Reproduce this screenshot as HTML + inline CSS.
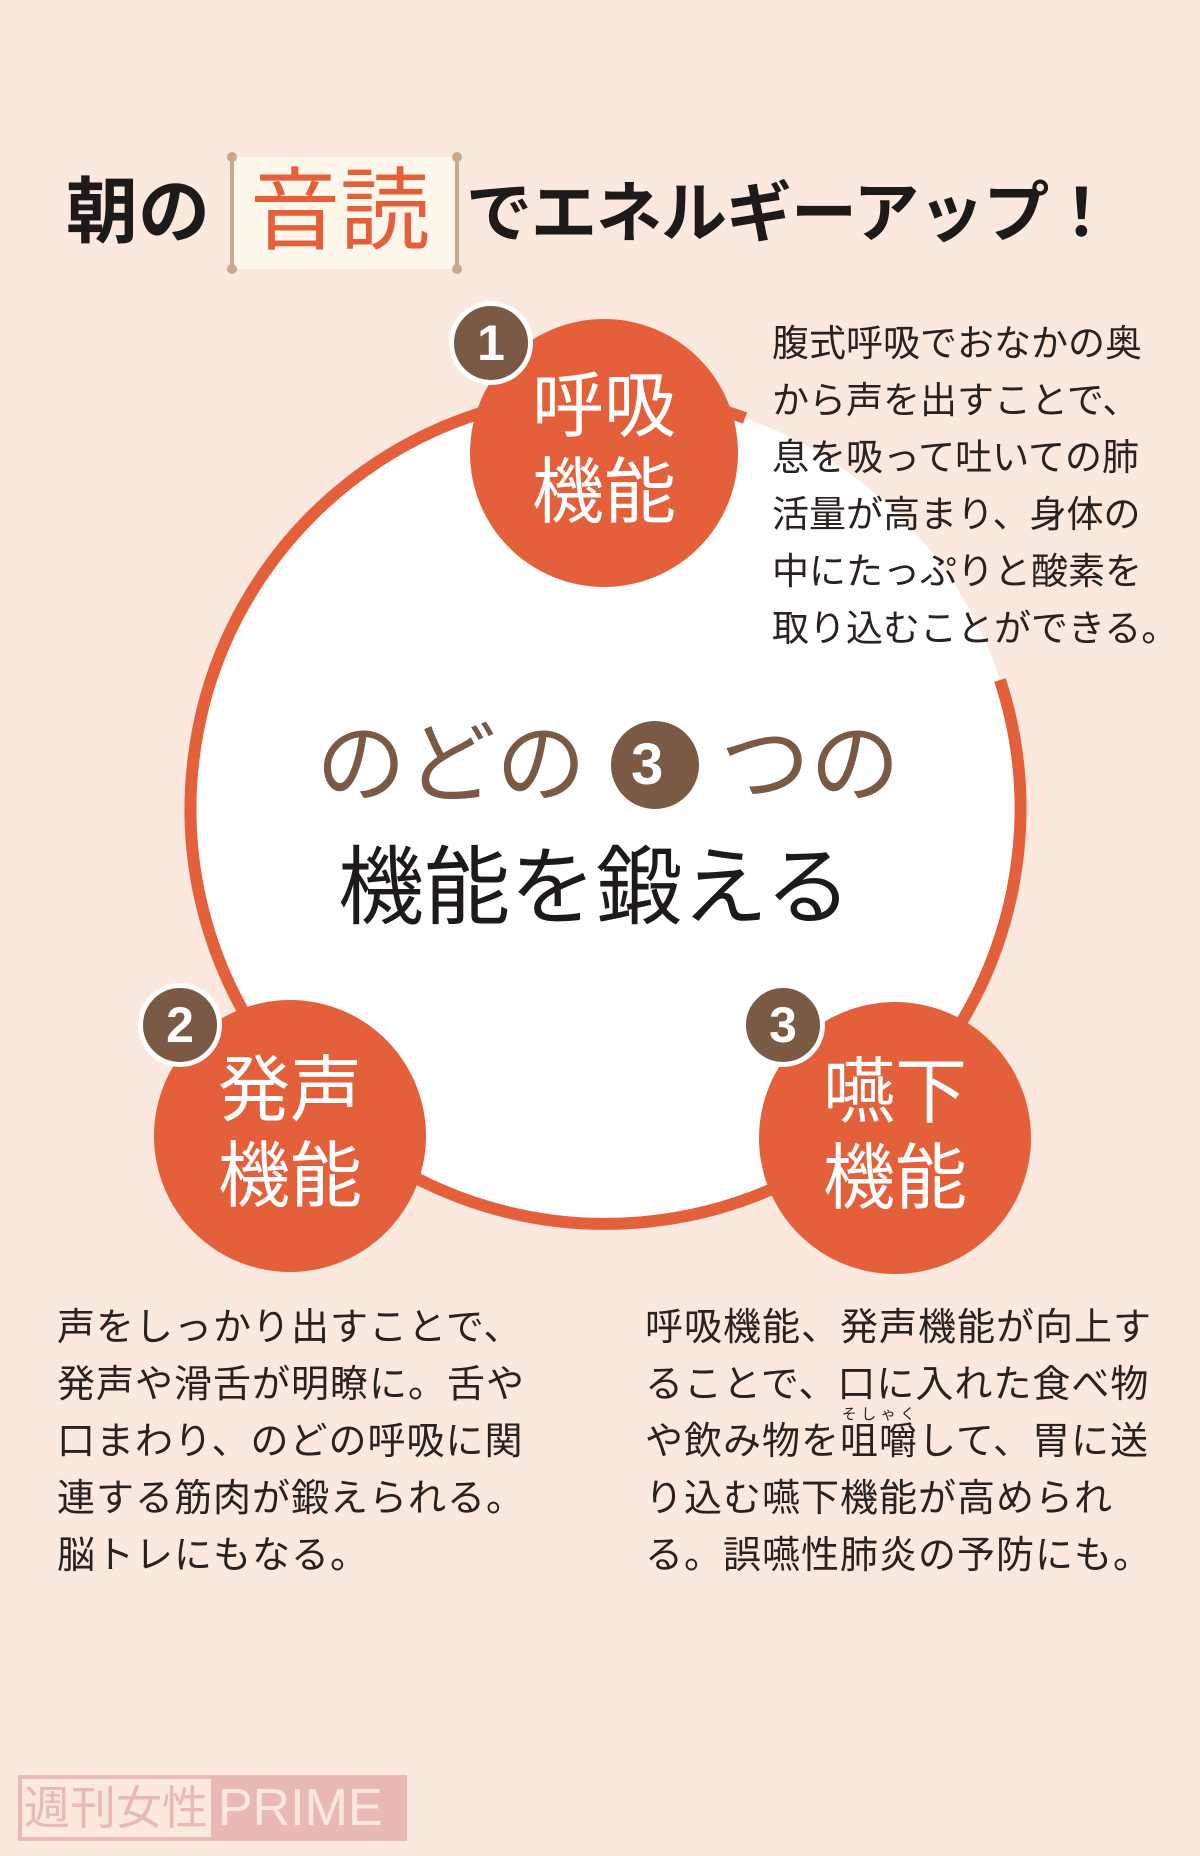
<!DOCTYPE html>
<html><head><meta charset="utf-8"><style>
html,body{margin:0;padding:0}
body{width:1200px;height:1856px;background:#fbe8df;position:relative;overflow:hidden;font-family:"Liberation Sans","Noto Sans CJK JP",sans-serif}
.a{position:absolute;white-space:nowrap}
.p{font-size:37px;color:#2a2220;line-height:57px;letter-spacing:1px}
.lbl{color:#fff;font-size:72px;line-height:86px;text-align:center;width:260px}
.badge{position:absolute;width:74px;height:74px;border-radius:50%;background:#7a5a45;border:5px solid #fff;color:#fff;font-weight:bold;font-size:50px;text-align:center;line-height:74px}
ruby rt{font-size:15px}
</style></head><body>
<svg class="a" style="left:0;top:0" width="1200" height="1856">
<path d="M1000 680 A415 415 0 1 1 745 418" fill="#fff" stroke="#e4603a" stroke-width="12"/>
<path d="M1000 680 L745 418 A415 415 0 0 1 1000 680Z" fill="#fff"/>
<circle cx="604" cy="453" r="134" fill="#e4603a"/>
<circle cx="290" cy="1136" r="136" fill="#e4603a"/>
<circle cx="895" cy="1138" r="136" fill="#e4603a"/>
<rect x="232" y="157" width="225" height="112" fill="#fdf6ea"/>
<line x1="232" y1="157" x2="232" y2="269" stroke="#c9a88e" stroke-width="4"/>
<line x1="457" y1="157" x2="457" y2="269" stroke="#c9a88e" stroke-width="4"/>
<circle cx="232" cy="157" r="5" fill="#c9a88e"/><circle cx="232" cy="269" r="5" fill="#c9a88e"/>
<circle cx="457" cy="157" r="5" fill="#c9a88e"/><circle cx="457" cy="269" r="5" fill="#c9a88e"/>
<circle cx="655" cy="765" r="44" fill="#7a5a45"/>
<rect x="20" y="1777" width="193" height="62" fill="none" stroke="#e9b9b4" stroke-width="4"/>
<rect x="213" y="1775" width="194" height="66" fill="#e9b9b4"/>
</svg>
<div class="a" style="left:66px;top:170px;font-size:72px;font-weight:bold;color:#1e1a1a;line-height:86px">朝の</div>
<div class="a" style="left:250px;top:164px;font-size:90px;color:#e4603a;line-height:96px">音読</div>
<div class="a" style="left:466px;top:170px;font-size:66px;font-weight:bold;color:#1e1a1a;line-height:86px;letter-spacing:-1px">でエネルギーアップ！</div>

<div class="a lbl" style="left:474px;top:364px">呼吸<br>機能</div>
<div class="a lbl" style="left:160px;top:1048px">発声<br>機能</div>
<div class="a lbl" style="left:765px;top:1050px">嚥下<br>機能</div>
<div class="badge" style="left:449px;top:301px">1</div>
<div class="badge" style="left:138px;top:983px">2</div>
<div class="badge" style="left:741px;top:983px">3</div>

<div class="a" style="left:316px;top:712px;font-size:90px;color:#7a5a45;line-height:106px">のどの</div>
<div class="a" style="left:631px;top:736px;font-size:58px;font-weight:bold;color:#fff;line-height:58px">3</div>
<div class="a" style="left:720px;top:712px;font-size:90px;color:#7a5a45;line-height:106px">つの</div>
<div class="a" style="left:338px;top:835px;font-size:86px;color:#1e1a1a;line-height:106px">機能を鍛える</div>

<div class="a p" style="left:772px;top:315px;letter-spacing:0">腹式呼吸でおなかの奥<br>から声を出すことで、<br>息を吸って吐いての肺<br>活量が高まり、身体の<br>中にたっぷりと酸素を<br>取り込むことができる。</div>
<div class="a p" style="left:57px;top:1300px;font-size:38px">声をしっかり出すことで、<br>発声や滑舌が明瞭に。舌や<br>口まわり、のどの呼吸に関<br>連する筋肉が鍛えられる。<br>脳トレにもなる。</div>
<div class="a p" style="left:645px;top:1300px;font-size:38px">呼吸機能、発声機能が向上す<br>ることで、口に入れた食べ物<br>や飲み物を<ruby>咀嚼<rt>そしゃく</rt></ruby>して、胃に送<br>り込む嚥下機能が高められ<br>る。誤嚥性肺炎の予防にも。</div>

<div class="a" style="left:24px;top:1777px;font-size:46px;color:#e9b9b4;line-height:62px">週刊女性</div>
<div class="a" style="left:218px;top:1777px;font-size:52px;color:#fbe8df;line-height:62px">PRIME</div>
</body></html>
